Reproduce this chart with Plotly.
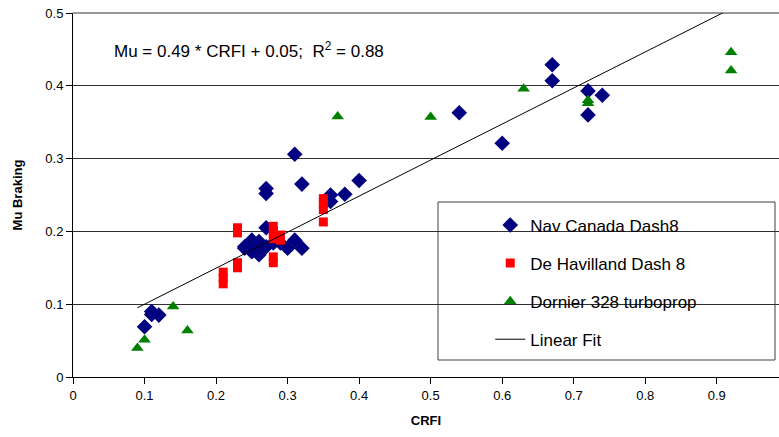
import plotly.graph_objects as go

# ---- data ----
nav_x = [0.10, 0.11, 0.11, 0.12, 0.24, 0.24, 0.25, 0.25, 0.25, 0.26, 0.26, 0.26, 0.27, 0.27,
         0.28, 0.29, 0.30, 0.31, 0.32, 0.27, 0.27, 0.31, 0.32, 0.36, 0.36, 0.38, 0.40,
         0.54, 0.60, 0.67, 0.67, 0.72, 0.72, 0.74]
nav_y = [0.069, 0.090, 0.086, 0.085, 0.179, 0.177, 0.188, 0.181, 0.172, 0.174, 0.186, 0.168, 0.179, 0.205,
         0.184, 0.184, 0.177, 0.188, 0.177, 0.259, 0.252, 0.306, 0.265, 0.250, 0.241, 0.251, 0.270,
         0.363, 0.321, 0.429, 0.407, 0.393, 0.360, 0.387]

dh_x = [0.21, 0.21, 0.21, 0.23, 0.23, 0.23, 0.23, 0.28, 0.28, 0.28, 0.29, 0.29, 0.28, 0.28,
        0.35, 0.35, 0.35, 0.35]
dh_y = [0.144, 0.136, 0.128, 0.205, 0.198, 0.157, 0.150, 0.207, 0.200, 0.190, 0.195, 0.188, 0.165, 0.157,
        0.245, 0.238, 0.230, 0.213]

do_x = [0.09, 0.10, 0.14, 0.16, 0.37, 0.50, 0.63, 0.72, 0.72, 0.92, 0.92]
do_y = [0.040, 0.051, 0.097, 0.064, 0.358, 0.357, 0.396, 0.380, 0.376, 0.446, 0.421]

# fitted line as drawn (label shows rounded values)
fit_slope = 0.495
fit_intercept = 0.0505
fit_x = [0.09, 0.92]
fit_y = [fit_slope * v + fit_intercept for v in fit_x]

x_ticks = [0, 0.1, 0.2, 0.3, 0.4, 0.5, 0.6, 0.7, 0.8, 0.9]
y_ticks = [0, 0.1, 0.2, 0.3, 0.4, 0.5]

FONT = "Liberation Sans, Arial, sans-serif"

fig = go.Figure()
fig.add_trace(go.Scatter(x=nav_x, y=nav_y, mode="markers", name="Nav Canada Dash8",
                         legendgroup="a",
                         marker=dict(symbol="diamond", size=12, color="#000080")))
fig.add_trace(go.Scatter(x=dh_x, y=dh_y, mode="markers", name="De Havilland Dash 8",
                         legendgroup="b",
                         marker=dict(symbol="square", size=9, color="#FF0000")))
fig.add_trace(go.Scatter(x=do_x, y=do_y, mode="markers", name="Dornier 328 turboprop",
                         legendgroup="c",
                         marker=dict(symbol="triangle-up", size=11, color="#008000")))
fig.add_trace(go.Scatter(x=fit_x, y=fit_y, mode="lines", name="Linear Fit",
                         legendgroup="d",
                         line=dict(color="black", width=1)))

fig.update_layout(
    width=779, height=437,
    margin=dict(l=73, r=0, t=13, b=60),
    plot_bgcolor="white", paper_bgcolor="white",
    font=dict(family=FONT, size=13, color="black"),
    showlegend=True,
    legend=dict(x=0.591, y=0.466, xanchor="left", yanchor="top",
                bgcolor="rgba(0,0,0,0)", borderwidth=0,
                font=dict(size=17, family=FONT), tracegroupgap=13),
    xaxis=dict(range=[0, 0.987], tickvals=x_ticks, ticktext=[str(v) for v in x_ticks],
               showgrid=False, zeroline=False, showline=True, linecolor="black", linewidth=1,
               ticks="outside", ticklen=6, tickcolor="black",
               title=dict(text="<b>CRFI</b>", font=dict(size=13), standoff=14)),
    yaxis=dict(range=[0, 0.5], tickvals=y_ticks, ticktext=[str(v) for v in y_ticks],
               showgrid=True, gridcolor="#303030", gridwidth=1, zeroline=False,
               showline=True, linecolor="black", linewidth=1,
               ticks="outside", ticklen=6, tickcolor="black",
               title=dict(text="<b>Mu Braking</b>", font=dict(size=13), standoff=19)),
    shapes=[
        dict(type="rect", xref="paper", yref="paper",
             x0=(438 - 73) / 706, x1=(775 - 73) / 706,
             y0=(377 - 360) / 364, y1=(377 - 202) / 364,
             line=dict(color="#404040", width=1), fillcolor="white", layer="between"),
        dict(type="line", xref="paper", yref="paper", x0=0, x1=1, y0=1, y1=1,
             line=dict(color="#303030", width=1), layer="above"),
    ],
    annotations=[dict(text="Mu = 0.49 * CRFI + 0.05;  R<sup>2</sup> = 0.88",
                      xref="paper", yref="paper", x=(112 - 73) / 706, y=(377 - 50) / 364,
                      xanchor="left", yanchor="middle", showarrow=False,
                      font=dict(size=17, family=FONT))],
)

fig.write_html("out.html")
